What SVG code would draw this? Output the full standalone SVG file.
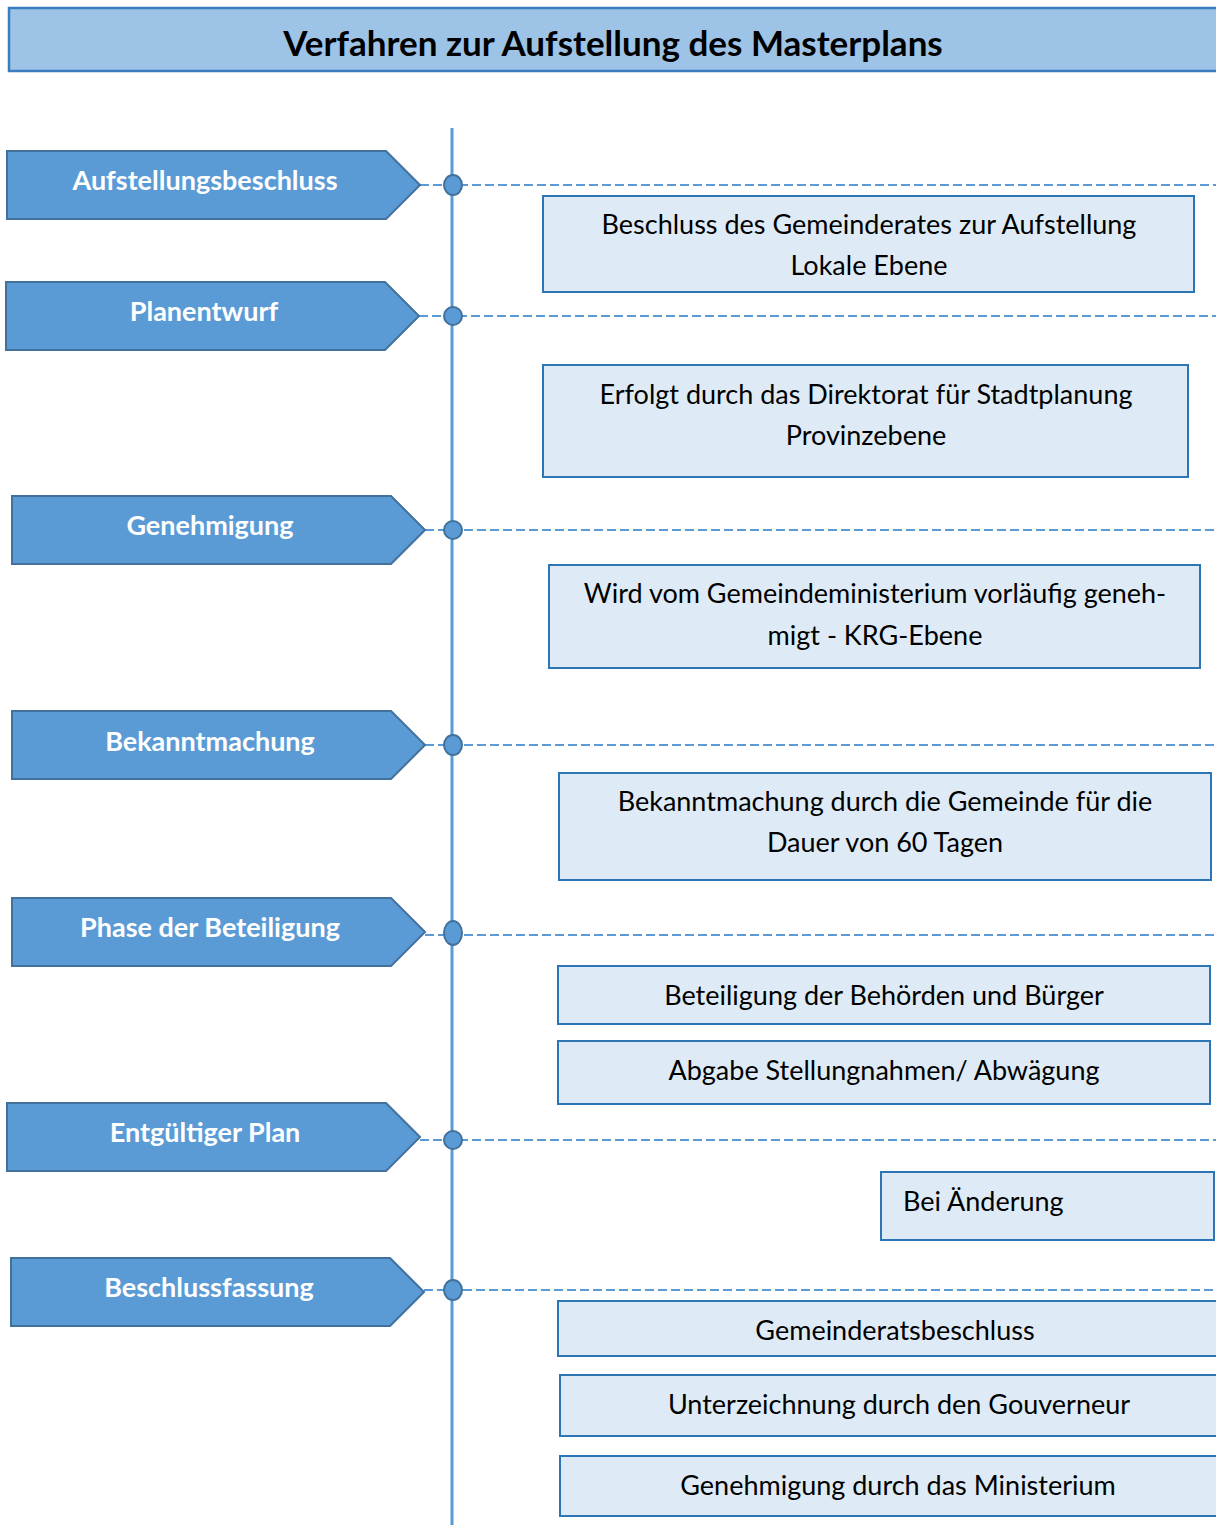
<svg xmlns="http://www.w3.org/2000/svg" width="1216" height="1525" viewBox="0 0 1216 1525">
<style>
.title{font-family:Lato,"Open Sans",sans-serif;font-weight:bold;font-size:35px;fill:#000;text-anchor:middle}
.arrow{fill:#5b9bd5;stroke:#41719c;stroke-width:2}
.alabel{font-family:Lato,"Open Sans",sans-serif;font-weight:bold;font-size:27px;fill:#fff;text-anchor:middle}
.box{fill:#deebf7;stroke:#2e75b6;stroke-width:2}
.btext{font-family:Lato,"Open Sans",sans-serif;font-size:27px;fill:#000;text-anchor:middle}
.dash{stroke:#5b9bd5;stroke-width:2;stroke-dasharray:9 4;fill:none}
.dot{fill:#5b9bd5;stroke:#41719c;stroke-width:2}
</style>
<rect width="1216" height="1525" fill="#fff"/>
<g id="title">
<rect x="9" y="8" width="1220" height="63" fill="#9dc3e6" stroke="#3a7dbf" stroke-width="2.5"/>
<text class="title" x="613" y="56">Verfahren zur Aufstellung des Masterplans</text>
</g>
<g id="connectors">
<line x1="452" y1="128" x2="452" y2="1525" stroke="#5b9bd5" stroke-width="3"/>
<line class="dash" x1="420" y1="185" x2="1216" y2="185"/>
<line class="dash" x1="419" y1="316" x2="1216" y2="316"/>
<line class="dash" x1="425" y1="530" x2="1216" y2="530"/>
<line class="dash" x1="425" y1="745" x2="1216" y2="745"/>
<line class="dash" x1="425" y1="935" x2="1216" y2="935"/>
<line class="dash" x1="420" y1="1140" x2="1216" y2="1140"/>
<line class="dash" x1="424" y1="1290" x2="1216" y2="1290"/>
<ellipse class="dot" cx="453" cy="185" rx="9" ry="10"/>
<ellipse class="dot" cx="453" cy="316" rx="9" ry="9"/>
<ellipse class="dot" cx="453" cy="530" rx="9" ry="9"/>
<ellipse class="dot" cx="453" cy="745" rx="9" ry="10"/>
<ellipse class="dot" cx="453" cy="933" rx="9" ry="12"/>
<ellipse class="dot" cx="453" cy="1140" rx="9" ry="9"/>
<ellipse class="dot" cx="453" cy="1290" rx="9" ry="10"/>
</g>
<g id="step1"><polygon class="arrow" points="7,151 386,151 420,185 386,219 7,219"/><text class="alabel" x="205" y="190">Aufstellungsbeschluss</text></g>
<g id="step2"><polygon class="arrow" points="6,282 385,282 419,316 385,350 6,350"/><text class="alabel" x="204" y="321">Planentwurf</text></g>
<g id="step3"><polygon class="arrow" points="12,496 391,496 425,530 391,564 12,564"/><text class="alabel" x="210" y="535">Genehmigung</text></g>
<g id="step4"><polygon class="arrow" points="12,711 391,711 425,745 391,779 12,779"/><text class="alabel" x="210" y="751">Bekanntmachung</text></g>
<g id="step5"><polygon class="arrow" points="12,898 391,898 425,932 391,966 12,966"/><text class="alabel" x="210" y="937">Phase der Beteiligung</text></g>
<g id="step6"><polygon class="arrow" points="7,1103 386,1103 420,1137 386,1171 7,1171"/><text class="alabel" x="205" y="1142">Entgültiger Plan</text></g>
<g id="step7"><polygon class="arrow" points="11,1258 390,1258 424,1292 390,1326 11,1326"/><text class="alabel" x="209" y="1297">Beschlussfassung</text></g>
<g id="box1"><rect class="box" x="543" y="196" width="651" height="96"/><text class="btext" x="869" y="234">Beschluss des Gemeinderates zur Aufstellung</text><text class="btext" x="869" y="275">Lokale Ebene</text></g>
<g id="box2"><rect class="box" x="543" y="365" width="645" height="112"/><text class="btext" x="866" y="404">Erfolgt durch das Direktorat für Stadtplanung</text><text class="btext" x="866" y="445">Provinzebene</text></g>
<g id="box3"><rect class="box" x="549" y="565" width="651" height="103"/><text class="btext" x="875" y="603">Wird vom Gemeindeministerium vorläufig geneh-</text><text class="btext" x="875" y="645">migt - KRG-Ebene</text></g>
<g id="box4"><rect class="box" x="559" y="773" width="652" height="107"/><text class="btext" x="885" y="811">Bekanntmachung durch die Gemeinde für die</text><text class="btext" x="885" y="852">Dauer von 60 Tagen</text></g>
<g id="box5"><rect class="box" x="558" y="966" width="652" height="58"/><text class="btext" x="884" y="1005">Beteiligung der Behörden und Bürger</text></g>
<g id="box6"><rect class="box" x="558" y="1041" width="652" height="63"/><text class="btext" x="884" y="1080">Abgabe Stellungnahmen/ Abwägung</text></g>
<g id="box7"><rect class="box" x="881" y="1172" width="333" height="68"/><text class="btext" x="903" y="1211" style="text-anchor:start">Bei Änderung</text></g>
<g id="box8"><rect class="box" x="558" y="1301" width="662" height="55"/><text class="btext" x="895" y="1340">Gemeinderatsbeschluss</text></g>
<g id="box9"><rect class="box" x="560" y="1375" width="660" height="61"/><text class="btext" x="899" y="1414">Unterzeichnung durch den Gouverneur</text></g>
<g id="box10"><rect class="box" x="560" y="1456" width="660" height="60"/><text class="btext" x="898" y="1495">Genehmigung durch das Ministerium</text></g>
</svg>
